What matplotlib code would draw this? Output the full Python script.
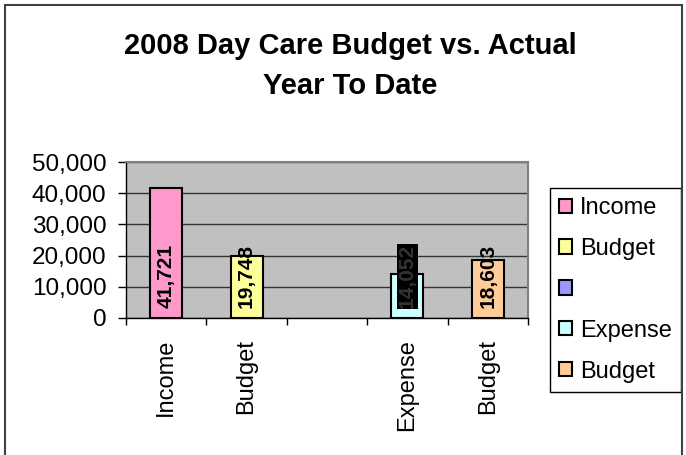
import matplotlib.pyplot as plt
from matplotlib.patches import Rectangle
import numpy as np

plt.rcParams['font.family'] = ['Liberation Sans', 'DejaVu Sans']

# data
categories = ['Income', 'Budget', '', 'Expense', 'Budget']
legend_labels = ['Income', 'Budget', '', 'Expense', 'Budget']
values = [41721, 19748, np.nan, 14052, 18603]
colors = ['#FF99CC', '#FFFF99', '#9999FF', '#CCFFFF', '#FFCC99']
yticks = [0, 10000, 20000, 30000, 40000, 50000]

fig = plt.figure(figsize=(6.86, 4.55), dpi=100)
ax = fig.add_axes([126/686, 1 - 318/455, 402/686, 156/455])
ax.set_facecolor('#C0C0C0')

x = np.arange(len(values))
bars = []
for i in x:
    b = ax.bar(i, values[i], width=0.4, color=colors[i], edgecolor='black',
               linewidth=1.5, zorder=3)
    bars.append(b[0])

# value labels sit at the base of each bar
for i in x:
    if np.isnan(values[i]):
        continue
    if categories[i] == 'Expense':
        ax.annotate(f'{values[i]:,.0f}', (i, 0), xytext=(0, 7), textcoords='offset points',
                    rotation=90, ha='center', va='bottom', fontsize=15, fontweight='bold',
                    color='#333333', zorder=5,
                    bbox=dict(facecolor='black', edgecolor='none', pad=0.5))
    else:
        ax.annotate(f'{values[i]:,.0f}', (i, 0), xytext=(0, 7), textcoords='offset points',
                    rotation=90, ha='center', va='bottom', fontsize=15, fontweight='bold',
                    zorder=5)

ax.set_xlim(-0.5, len(values) - 0.5)
ax.set_ylim(0, 50000)
ax.set_yticks(yticks)
ax.set_yticklabels([f'{v:,}' for v in yticks])
ax.yaxis.grid(True, color='#333333', linewidth=1)
ax.set_axisbelow(True)

ax.set_xticks(x)
ax.set_xticklabels(categories, rotation=90)
ax.set_xticks(np.arange(len(values) + 1) - 0.5, minor=True)
ax.tick_params(axis='x', which='major', length=0, pad=15, labelsize=17)
ax.tick_params(axis='x', which='minor', length=5, width=1, direction='out')
ax.tick_params(axis='y', length=6, width=1, direction='out', pad=8, labelsize=17.5)

for s in ['top', 'right']:
    ax.spines[s].set_color('#808080')
    ax.spines[s].set_linewidth(1.5)
for s in ['left', 'bottom']:
    ax.spines[s].set_color('black')
    ax.spines[s].set_linewidth(1)

leg = ax.legend(bars, legend_labels, loc='upper left',
                bbox_to_anchor=(550/686, 1 - 188/455), bbox_transform=fig.transFigure,
                borderaxespad=0, fontsize=17, fancybox=False, edgecolor='black',
                handlelength=0.55, handleheight=0.55, handletextpad=0.35,
                labelspacing=0.8, borderpad=0.38, framealpha=1)
leg.get_frame().set_linewidth(1)

fig.text(350/686, 1 - 66/455, '2008 Day Care Budget vs. Actual\nYear To Date',
         ha='center', va='center', fontsize=21, fontweight='bold', linespacing=1.55)

# outer chart border (bottom edge runs off the image)
fig.patches.append(Rectangle((5/686, -0.1), 677/686, 1.1 - 5/455, transform=fig.transFigure,
                             fill=False, edgecolor='#404040', linewidth=1.5))

fig.savefig('out.png', dpi=100)
